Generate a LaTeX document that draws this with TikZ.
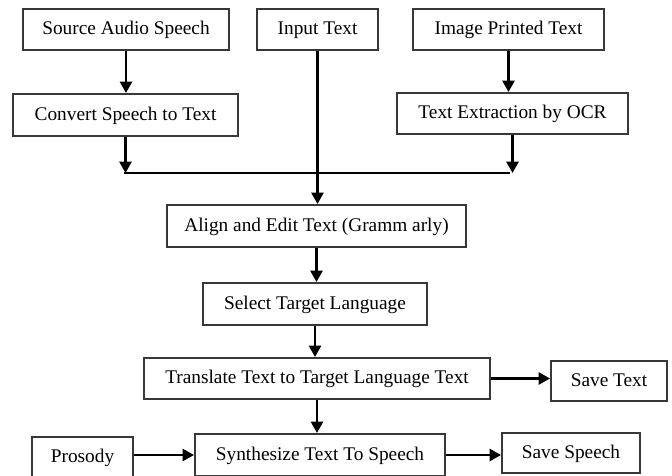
\documentclass[tikz,border=0pt]{standalone}
\usepackage{fontspec}
\setmainfont{Liberation Serif}
\usepackage{xcolor}
\definecolor{BoxLine}{HTML}{383838}
\usetikzlibrary{arrows.meta}

\begin{document}
\begin{tikzpicture}[x=0.02cm,y=-0.02cm,
		box/.style={draw=BoxLine,line width=1.2pt,minimum height=0.82cm,inner sep=0pt,text height=8pt,text depth=2pt,font=\fontsize{11}{13}\selectfont},
		flow/.style={-{Triangle[length=6.5pt,width=7pt]},line width=1.2pt}]
		\def\W{672}     % picture width
		\def\H{476}     % picture height
		\def\yJoin{173} % the line where the three inputs meet
		
		\useasboundingbox (0,0) rectangle (\W,\H);
		
		% inputs
		\node[box,minimum width=4.12cm] (source) at (126,29.5) {Source Audio Speech};
		\node[box,minimum width=2.42cm] (input) at (317.5,29.5) {Input Text};
		\node[box,minimum width=3.82cm] (image) at (508.5,29.5) {Image Printed Text};
		\node[box,minimum width=4.5cm,minimum height=0.84cm] (convert) at (125.5,115) {Convert Speech to Text};
		\node[box,minimum width=4.62cm] (ocr) at (512.5,113.5) {Text Extraction by OCR};
		
		\coordinate (joinL) at (124,\yJoin);
		\coordinate (joinR) at (510,\yJoin);
		
		% main chain
		\node[box,minimum width=5.98cm,minimum height=0.84cm] (align) at (316.5,226) {Align and Edit Text (Gramm arly)};
		\node[box,minimum width=4.48cm,minimum height=0.84cm] (select) at (315,304) {Select Target Language};
		\node[box,minimum width=6.92cm] (translate) at (317,378.5) {Translate Text to Target Language Text};
		\node[box,minimum width=2.32cm,minimum height=0.8cm] (savetext) at (609,381) {Save Text};
		\node[box,minimum width=2.02cm] (prosody) at (82.5,457.5) {Prosody};
		\node[box,minimum width=5cm,minimum height=0.84cm] (synth) at (320,455) {Synthesize Text To Speech};
		\node[box,minimum width=2.76cm,minimum height=0.8cm] (savespeech) at (571,453) {Save Speech};
		
		\draw[flow] (source.south) -- (source.south |- convert.north);
		\draw[flow] (image.south) -- (image.south |- ocr.north);
		\draw[flow] (convert.south) -- (convert.south |- joinL);
		\draw[flow] (ocr.south) -- (ocr.south |- joinR);
		\draw[line width=1.2pt] (joinL) -- (joinR);
		\draw[flow] (input.south) -- (input.south |- align.north);
		
		\draw[flow] (align.south) -- (align.south |- select.north);
		\draw[flow] (select.south) -- (select.south |- translate.north);
		\draw[flow] (translate.east) -- (translate.east -| savetext.west);
		\draw[flow] (translate.south) -- (translate.south |- synth.north);
		\draw[flow] (synth.west -| prosody.east) -- (synth.west);
		\draw[flow] (synth.east) -- (synth.east -| savespeech.west);
		
	\end{tikzpicture}
\end{document}
